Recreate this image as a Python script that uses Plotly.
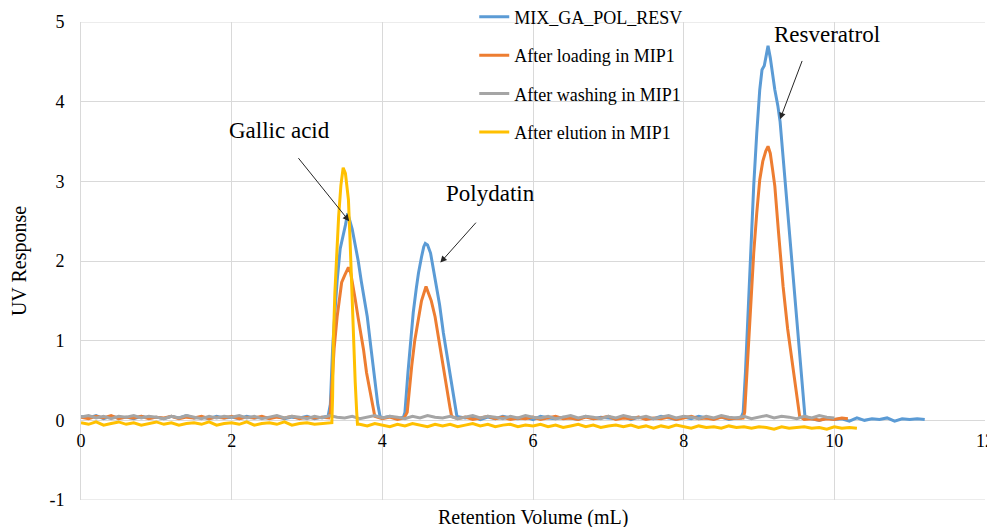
import plotly.graph_objects as go

# Shared retention-volume grid (mL), 0.1 mL steps
RV = [0.0, 0.1, 0.2, 0.3, 0.4, 0.5, 0.6, 0.7, 0.8, 0.9,
      1.0, 1.1, 1.2, 1.3, 1.4, 1.5, 1.6, 1.7, 1.8, 1.9,
      2.0, 2.1, 2.2, 2.3, 2.4, 2.5, 2.6, 2.7, 2.8, 2.9,
      3.0, 3.1, 3.2, 3.3, 3.4, 3.5, 3.6, 3.7, 3.8, 3.9,
      4.0, 4.1, 4.2, 4.3, 4.4, 4.5, 4.6, 4.7, 4.8, 4.9,
      5.0, 5.1, 5.2, 5.3, 5.4, 5.5, 5.6, 5.7, 5.8, 5.9,
      6.0, 6.1, 6.2, 6.3, 6.4, 6.5, 6.6, 6.7, 6.8, 6.9,
      7.0, 7.1, 7.2, 7.3, 7.4, 7.5, 7.6, 7.7, 7.8, 7.9,
      8.0, 8.1, 8.2, 8.3, 8.4, 8.5, 8.6, 8.7, 8.8, 8.9,
      9.0, 9.1, 9.2, 9.3, 9.4, 9.5, 9.6, 9.7, 9.8, 9.9,
      10.0, 10.1, 10.2, 10.3, 10.4, 10.5, 10.6, 10.7, 10.8, 10.9,
      11.0, 11.1, 11.2]

# ---- MIX_GA_POL_RESV (blue) ----
mix_base1 = [0.05, 0.03, 0.06, 0.02, 0.05, 0.03, 0.04, 0.02, 0.05, 0.03,
             0.04, 0.02, 0.05, 0.03, 0.06, 0.03, 0.04, 0.02, 0.05, 0.03,
             0.04, 0.02, 0.05, 0.03, 0.04, 0.03, 0.05, 0.02, 0.04, 0.03,
             0.05, 0.02, 0.04]
mix_ga_x = [3.28, 3.31, 3.34, 3.37, 3.40, 3.44, 3.48, 3.51, 3.54, 3.57,
            3.60, 3.64, 3.68, 3.72, 3.76, 3.80, 3.85, 3.90, 3.94, 3.97]
mix_ga_y = [0.05, 0.2, 0.9, 1.35, 1.75, 2.15, 2.3, 2.45, 2.6, 2.5,
            2.4, 2.2, 2.0, 1.75, 1.5, 1.3, 0.9, 0.48, 0.2, 0.05]
mix_base2 = [0.03, 0.05, 0.02]
mix_pol_x = [4.28, 4.30, 4.34, 4.38, 4.41, 4.45, 4.48, 4.52, 4.55, 4.57,
             4.60, 4.64, 4.67, 4.71, 4.76, 4.81, 4.86, 4.92, 4.96, 4.99]
mix_pol_y = [0.04, 0.1, 0.6, 1.05, 1.35, 1.65, 1.85, 2.05, 2.18, 2.22,
             2.2, 2.1, 1.95, 1.75, 1.45, 1.1, 0.8, 0.45, 0.2, 0.05]
mix_base3 = [0.03, 0.05, 0.01, 0.04, 0.02, 0.05, 0.03, 0.02, 0.04, 0.01,
             0.05, 0.03, 0.02, 0.04, 0.03, 0.01, 0.05, 0.02, 0.04, 0.03,
             0.02, 0.05, 0.01, 0.04, 0.03, 0.02, 0.05, 0.03, 0.01, 0.04,
             0.02, 0.05, 0.03, 0.02, 0.04, 0.01, 0.03]
mix_res_x = [8.76, 8.79, 8.82, 8.85, 8.89, 8.93, 8.97, 9.01, 9.04, 9.07,
             9.10, 9.12, 9.15, 9.17, 9.21, 9.25, 9.28, 9.32, 9.36, 9.39,
             9.43, 9.47, 9.50, 9.54, 9.58, 9.61]
mix_res_y = [0.03, 0.1, 0.6, 1.3, 2.1, 2.95, 3.6, 4.15, 4.4, 4.45,
             4.6, 4.7, 4.55, 4.4, 4.15, 3.95, 3.75, 3.3, 2.85, 2.5,
             2.05, 1.6, 1.25, 0.8, 0.35, 0.05]
mix_base4 = [0.02, 0.0, 0.03, 0.01, 0.02, -0.01, 0.03, 0.0, 0.02, 0.01,
             0.03, -0.01, 0.02, 0.01, 0.02, 0.01]

# ---- After loading in MIP1 (orange) ----
load_base1 = [0.04, 0.02, 0.05, 0.03, 0.06, 0.02, 0.04, 0.03, 0.05, 0.02,
              0.04, 0.03, 0.05, 0.02, 0.04, 0.03, 0.05, 0.02, 0.04, 0.03,
              0.05, 0.02, 0.04, 0.03, 0.05, 0.02, 0.04, 0.03, 0.05, 0.02,
              0.04, 0.03, 0.04]
load_ga_x = [3.29, 3.31, 3.33, 3.36, 3.40, 3.43, 3.46, 3.50, 3.53, 3.55,
             3.58, 3.61, 3.64, 3.68, 3.72, 3.75, 3.79, 3.83, 3.86, 3.90]
load_ga_y = [0.03, 0.1, 0.48, 0.9, 1.3, 1.55, 1.73, 1.82, 1.88, 1.92,
             1.85, 1.7, 1.52, 1.28, 1.05, 0.89, 0.6, 0.4, 0.26, 0.05]
load_base2 = [0.02, 0.04, 0.01]
load_pol_x = [4.29, 4.33, 4.36, 4.39, 4.43, 4.48, 4.52, 4.56, 4.58, 4.61,
              4.65, 4.70, 4.75, 4.81, 4.86, 4.90, 4.92]
load_pol_y = [0.03, 0.1, 0.4, 0.68, 1.0, 1.3, 1.5, 1.62, 1.68, 1.6,
              1.5, 1.3, 1.0, 0.68, 0.38, 0.15, 0.05]
load_base3 = [0.02, 0.04, 0.01, 0.03, 0.05, 0.02, 0.04, 0.01, 0.03, 0.02,
              0.04, 0.01, 0.03, 0.05, 0.02, 0.03, 0.01, 0.04, 0.02, 0.03,
              0.05, 0.01, 0.03, 0.02, 0.04, 0.01, 0.03, 0.02, 0.04, 0.01,
              0.03, 0.05, 0.02, 0.03, 0.01, 0.04, 0.02, 0.03]
load_res_x = [8.79, 8.81, 8.84, 8.86, 8.90, 8.93, 8.97, 9.01, 9.05, 9.09,
              9.12, 9.15, 9.18, 9.21, 9.26, 9.32, 9.38, 9.45, 9.50, 9.54]
load_res_y = [0.03, 0.1, 0.6, 1.05, 1.6, 2.1, 2.6, 3.02, 3.25, 3.38,
              3.44, 3.35, 3.15, 2.94, 2.35, 1.68, 1.15, 0.64, 0.3, 0.05]
load_base4 = [0.01, 0.02, 0.0, 0.02, 0.01, 0.03]
load_end_x = [10.18]
load_end_y = [0.02]

# ---- After washing in MIP1 (gray) ----
wash_y = [0.04, 0.06, 0.03, 0.05, 0.02, 0.05, 0.04, 0.06, 0.03, 0.05,
          0.04, 0.02, 0.05, 0.03, 0.06, 0.04, 0.02, 0.05, 0.03, 0.05,
          0.04, 0.06, 0.03, 0.05, 0.02, 0.04, 0.06, 0.03, 0.05, 0.04,
          0.02, 0.05, 0.03, 0.06, 0.04, 0.03, 0.05, 0.02, 0.04, 0.06,
          0.03, 0.05, 0.04, 0.02, 0.05, 0.03, 0.06, 0.04, 0.03, 0.05,
          0.02, 0.04, 0.06, 0.03, 0.05, 0.04, 0.02, 0.05, 0.03, 0.06,
          0.04, 0.03, 0.05, 0.02, 0.04, 0.06, 0.03, 0.05, 0.04, 0.02,
          0.05, 0.03, 0.06, 0.04, 0.03, 0.05, 0.02, 0.04, 0.06, 0.03,
          0.05, 0.04, 0.02, 0.05, 0.03, 0.06, 0.04, 0.03, 0.05, 0.02,
          0.04, 0.06, 0.03, 0.05, 0.04, 0.02, 0.05, 0.03, 0.06, 0.04,
          0.03]

# ---- After elution in MIP1 (yellow) ----
elu_base1 = [-0.03, -0.05, -0.02, -0.06, -0.04, -0.02, -0.05, -0.03, -0.06, -0.04,
             -0.02, -0.05, -0.03, -0.06, -0.04, -0.03, -0.05, -0.02, -0.06, -0.04,
             -0.03, -0.05, -0.02, -0.06, -0.04, -0.03, -0.05, -0.02, -0.06, -0.04,
             -0.03, -0.05, -0.04, -0.03]
elu_ga_x = [3.33, 3.34, 3.35, 3.37, 3.40, 3.42, 3.45, 3.48, 3.51, 3.55,
            3.57, 3.59, 3.62, 3.64, 3.66, 3.67]
elu_ga_y = [-0.03, 0.3, 1.0, 1.6, 2.2, 2.56, 2.95, 3.17, 3.1, 2.77,
            2.3, 1.73, 1.0, 0.48, 0.1, -0.05]
elu_base2 = [-0.05, -0.07, -0.04, -0.06, -0.08, -0.05, -0.07, -0.04, -0.06, -0.08,
             -0.05, -0.07, -0.05, -0.08, -0.06, -0.04, -0.07, -0.05, -0.08, -0.06,
             -0.05, -0.08, -0.06, -0.07, -0.05, -0.08, -0.06, -0.09, -0.07, -0.05,
             -0.08, -0.06, -0.09, -0.07, -0.06, -0.08, -0.06, -0.09, -0.07, -0.10,
             -0.07, -0.09, -0.06, -0.08, -0.10, -0.07, -0.09, -0.08, -0.10, -0.07,
             -0.09, -0.08, -0.10, -0.08, -0.09, -0.11, -0.08, -0.10, -0.09, -0.08,
             -0.10, -0.09, -0.11, -0.08, -0.10, -0.09, -0.10]

# Assemble series
mix_x = RV[0:33] + mix_ga_x + RV[40:43] + mix_pol_x + RV[51:88] + mix_res_x + RV[97:113]
mix_y = mix_base1 + mix_ga_y + mix_base2 + mix_pol_y + mix_base3 + mix_res_y + mix_base4
load_x = RV[0:33] + load_ga_x + RV[40:43] + load_pol_x + RV[50:88] + load_res_x + RV[96:102] + load_end_x
load_y = load_base1 + load_ga_y + load_base2 + load_pol_y + load_base3 + load_res_y + load_base4 + load_end_y
wash_x = RV[0:101]
elu_x = RV[0:34] + elu_ga_x + RV[37:104]
elu_y = elu_base1 + elu_ga_y + elu_base2

series_names = ["MIX_GA_POL_RESV", "After loading in MIP1", "After washing in MIP1", "After elution in MIP1"]
series_colors = ["#5B9BD5", "#ED7D31", "#A5A5A5", "#FFC000"]
series_x = [mix_x, load_x, wash_x, elu_x]
series_y = [mix_y, load_y, wash_y, elu_y]
for sx, sy in zip(series_x, series_y):
    assert len(sx) == len(sy), (len(sx), len(sy))

x_ticks = [0, 2, 4, 6, 8, 10, 12]
y_ticks = [-1, 0, 1, 2, 3, 4, 5]

FONT = "Liberation Serif, Times New Roman, serif"
GRID = "#D9D9D9"

fig = go.Figure()
for i, (name, col, sx, sy) in enumerate(zip(series_names, series_colors, series_x, series_y)):
    fig.add_trace(go.Scatter(x=sx, y=sy, mode="lines", name=name,
                             line=dict(color=col, width=3), legendgroup=str(i)))

# Peak labels with arrows
peak_labels = ["Gallic acid", "Polydatin", "Resveratrol"]
label_pos = [(2.64, 3.64), (5.43, 2.85), (9.90, 4.84)]
arrow_tail = [(2.87, 3.31), (5.26, 2.50), (9.58, 4.53)]
arrow_head = [(3.56, 2.50), (4.77, 1.98), (9.28, 3.78)]
for lab, (lx, ly), (tx, ty), (hx, hy) in zip(peak_labels, label_pos, arrow_tail, arrow_head):
    fig.add_annotation(x=lx, y=ly, text=lab, showarrow=False,
                       font=dict(family=FONT, size=23, color="#000000"))
    fig.add_annotation(x=hx, y=hy, ax=tx, ay=ty, axref="x", ayref="y", text="",
                       showarrow=True, arrowhead=2, arrowsize=1.3, arrowwidth=1,
                       arrowcolor="#262626")

fig.add_annotation(x=0.5, y=-0.036, xref="paper", yref="paper", text="Retention Volume (mL)",
                   showarrow=False, yanchor="middle",
                   font=dict(family=FONT, size=20, color="#000000"))

# plot-area frame lines at the range edges (top and bottom gridlines)
for yv in [y_ticks[0], y_ticks[-1]]:
    fig.add_shape(type="line", xref="paper", yref="y", x0=0, x1=1, y0=yv, y1=yv,
                  line=dict(color=GRID, width=1), layer="below")

# The page body adds an 8px offset, so the figure is sized to fill the rest of the window
fig.update_layout(
    width=987, height=519,
    margin=dict(l=73, r=10, t=14, b=27, autoexpand=False),
    paper_bgcolor="white", plot_bgcolor="white",
    font=dict(family=FONT, color="#000000"),
    showlegend=True,
    legend=dict(x=0.435, y=1.049, xanchor="left", yanchor="top",
                bgcolor="rgba(0,0,0,0)", tracegroupgap=12,
                font=dict(family=FONT, size=18, color="#000000")),
    xaxis=dict(range=[0, 12], tickvals=x_ticks, ticktext=[str(v) for v in x_ticks],
               showgrid=True, gridcolor=GRID, gridwidth=1,
               zeroline=False, showline=False, ticks="",
               anchor="free", position=1/6, ticklabelstandoff=8, automargin=False,
               tickfont=dict(family=FONT, size=18, color="#000000")),
    yaxis=dict(range=[-1, 5], tickvals=y_ticks, ticktext=[str(v) for v in y_ticks],
               showgrid=True, gridcolor=GRID, gridwidth=1,
               zeroline=False, showline=True, linecolor=GRID, linewidth=1,
               ticks="", domain=[0, 1], ticklabelstandoff=12, automargin=False,
               title=dict(text="UV Response", font=dict(family=FONT, size=20, color="#000000"), standoff=17),
               tickfont=dict(family=FONT, size=18, color="#000000")),
)

fig.write_html("out.html")
